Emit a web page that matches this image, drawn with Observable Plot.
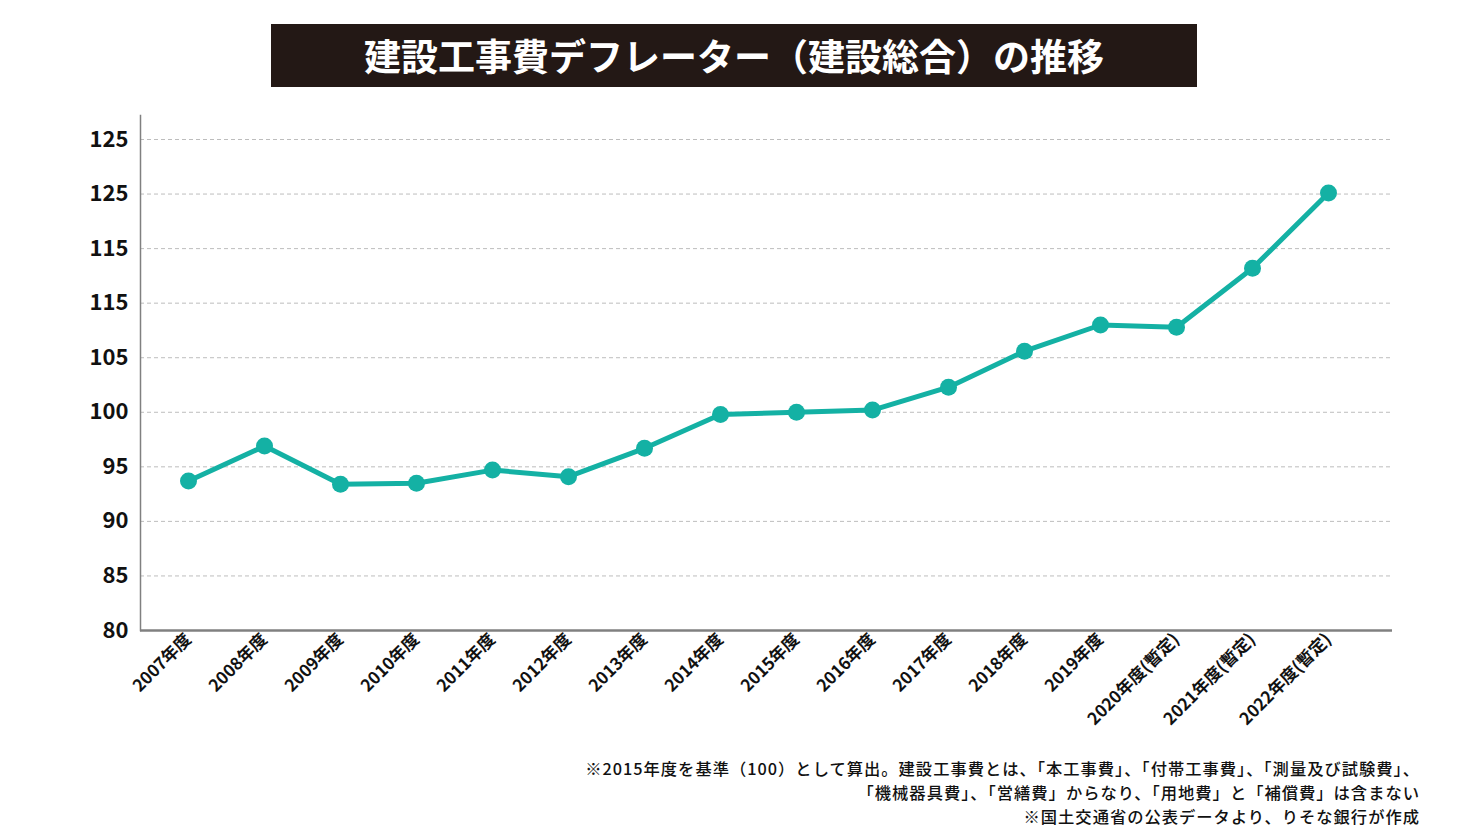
<!DOCTYPE html>
<html>
<head>
<meta charset="utf-8">
<script src="https://cdn.jsdelivr.net/npm/d3@7"></script>
<script src="https://cdn.jsdelivr.net/npm/@observablehq/plot@0.6"></script>
<style>
  html, body { margin: 0; padding: 0; background: #fff; }
  body { width: 1468px; height: 839px; position: relative; overflow: hidden; font-family: "Noto Sans CJK JP", sans-serif; }
  #title { position: absolute; left: 271px; top: 24px; width: 926px; height: 63px; background: #231815; color: #fff;
           font-weight: 700; font-size: 37px; line-height: 63px; text-align: center; letter-spacing: 0px; }
  #chart { position: absolute; left: 0; top: 100px; }
  #caption { position: absolute; right: 48px; top: 756px; text-align: right; font-size: 16.3px; line-height: 24px; color: #111; font-weight: 500; white-space: nowrap; letter-spacing: 1px; }
</style>
</head>
<body>
<div id="title">建設工事費デフレーター（建設総合）の推移</div>
<div id="chart"></div>
<div id="caption">※2015年度を基準（100）として算出。建設工事費とは、「本工事費」、「付帯工事費」、「測量及び試験費」、<br>「機械器具費」、「営繕費」からなり、「用地費」と「補償費」は含まない<br>※国土交通省の公表データより、りそな銀行が作成</div>
<script>
const years = ["2007年度","2008年度","2009年度","2010年度","2011年度","2012年度","2013年度","2014年度","2015年度","2016年度","2017年度","2018年度","2019年度","2020年度(暫定)","2021年度(暫定)","2022年度(暫定)"];
const values = [93.7, 96.9, 93.4, 93.5, 94.7, 94.1, 96.7, 99.8, 100.0, 100.2, 102.3, 105.6, 108.0, 107.8, 113.2, 120.1];
const yTicks = [80, 85, 90, 95, 100, 105, 110, 115, 120, 125];
const yTickLabels = ["80", "85", "90", "95", "100", "105", "115", "115", "125", "125"];

const data = years.map((y, i) => ({year: y, value: values[i]}));
const lineColor = "#14b1a4";

const chart = Plot.plot({
  width: 1468,
  height: 650,
  marginTop: 15,
  marginBottom: 120,
  marginLeft: 140,
  marginRight: 76,
  style: {fontFamily: "'Noto Sans CJK JP', sans-serif", background: "#fff"},
  x: {type: "point", domain: years, padding: 0, insetLeft: 44, insetRight: 60},
  y: {domain: [80, 127.2]},
  marks: [
    Plot.ruleY(yTicks.filter(d => d > 80), {stroke: "#bdbdbd", strokeWidth: 1, strokeDasharray: "4,3"}),
    Plot.ruleY([80], {stroke: "#808080", strokeWidth: 2.5}),
    Plot.frame({anchor: "left", stroke: "#808080", strokeWidth: 1.5}),
    Plot.axisY({ticks: yTicks, tickFormat: d => yTickLabels[yTicks.indexOf(d)], tickSize: 0, tickPadding: 12,
                fontSize: 22, fontWeight: 700, fill: "#111", label: null}),
    Plot.axisX({tickRotate: -45, tickSize: 0, tickPadding: 6, fontSize: 17, fontWeight: 700, fill: "#111", label: null}),
    Plot.line(data, {x: "year", y: "value", stroke: lineColor, strokeWidth: 5}),
    Plot.dot(data, {x: "year", y: "value", fill: lineColor, r: 8.5})
  ]
});
document.getElementById("chart").appendChild(chart);
</script>
</body>
</html>
